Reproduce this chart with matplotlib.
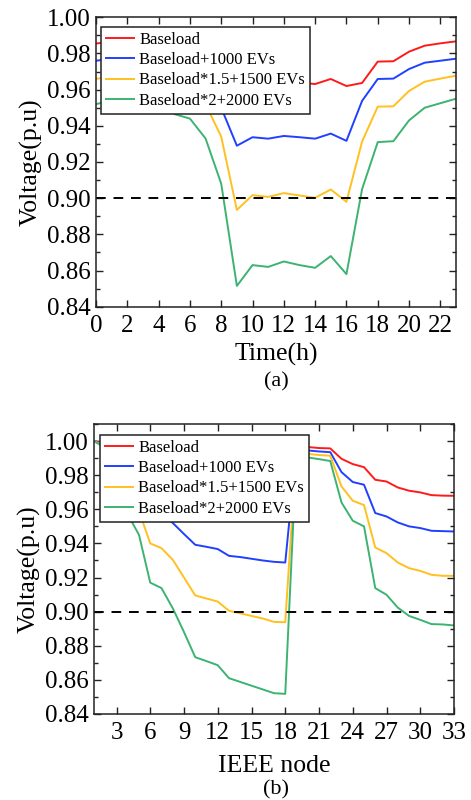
import matplotlib
matplotlib.use("Agg")
import matplotlib.pyplot as plt
from matplotlib.ticker import MultipleLocator

plt.rcParams['font.family'] = ['Liberation Serif', 'DejaVu Serif']
plt.rcParams['mathtext.fontset'] = 'stix'

# ---------------- data (a) ----------------
hours = list(range(24))
red_a = [0.9855, 0.9865, 0.987, 0.987, 0.9865, 0.985, 0.984, 0.981, 0.975, 0.962,
         0.964, 0.9635, 0.9645, 0.964, 0.9631, 0.9659, 0.962, 0.9637, 0.9755, 0.9757,
         0.981, 0.9843, 0.9856, 0.9867]
blue_a = [0.976, 0.977, 0.978, 0.978, 0.977, 0.975, 0.973, 0.968, 0.950, 0.929,
          0.9337, 0.9329, 0.9344, 0.9337, 0.9329, 0.9357, 0.9317, 0.9538, 0.9659, 0.9661,
          0.9714, 0.9749, 0.976, 0.9771]
yellow_a = [0.966, 0.967, 0.968, 0.968, 0.967, 0.963, 0.961, 0.952, 0.934, 0.8935,
            0.9017, 0.9007, 0.9028, 0.9015, 0.9002, 0.9048, 0.898, 0.9313, 0.9506, 0.9508,
            0.9593, 0.9644, 0.9661, 0.9677]
green_a = [0.952, 0.954, 0.955, 0.955, 0.954, 0.9465, 0.944, 0.933, 0.908, 0.8515,
           0.863, 0.862, 0.865, 0.863, 0.8615, 0.868, 0.858, 0.905, 0.931, 0.9315,
           0.943, 0.950, 0.9525, 0.955]

# ---------------- data (b) ----------------
nodes = list(range(1, 34))
red_b = [1.0, 0.999, 0.993, 0.990, 0.987, 0.979, 0.977, 0.975, 0.972, 0.970,
         0.969, 0.968, 0.966, 0.965, 0.964, 0.963, 0.962, 0.962,
         0.9982, 0.9965, 0.9959, 0.9957, 0.9896, 0.9865, 0.9847, 0.9773, 0.9763,
         0.9728, 0.9709, 0.9699, 0.9683, 0.968, 0.9679]
blue_b = [1.0, 0.998, 0.986, 0.980, 0.975, 0.962, 0.958, 0.952, 0.9455, 0.9392,
          0.938, 0.9367, 0.9327, 0.932, 0.931, 0.930, 0.9292, 0.9288,
          0.9959, 0.9945, 0.9939, 0.9935, 0.9818, 0.976, 0.9744, 0.9578, 0.9558,
          0.9523, 0.950, 0.949, 0.9474, 0.9472, 0.947]
yellow_b = [1.0, 0.997, 0.980, 0.970, 0.959, 0.940, 0.9372, 0.9304, 0.920, 0.9095,
            0.9077, 0.9059, 0.9005, 0.899, 0.8975, 0.896, 0.894, 0.8938,
            0.9949, 0.9925, 0.9918, 0.9914, 0.9734, 0.965, 0.9625, 0.9376, 0.9343,
            0.9288, 0.9255, 0.9239, 0.9216, 0.921, 0.921]
green_b = [1.0, 0.996, 0.975, 0.957, 0.945, 0.917, 0.9138, 0.902, 0.888, 0.8733,
           0.871, 0.8686, 0.861, 0.8588, 0.8566, 0.8544, 0.8522, 0.8518,
           0.993, 0.9904, 0.9894, 0.9883, 0.964, 0.9533, 0.950, 0.9138, 0.9099,
           0.9024, 0.8975, 0.8952, 0.8927, 0.8925, 0.8919]

labels = ['Baseload', 'Baseload+1000 EVs', 'Baseload*1.5+1500 EVs', 'Baseload*2+2000 EVs']
colors = ['#ff1a1a', '#2040ff', '#ffc020', '#3cb371']
limit = 0.90

fig = plt.figure(figsize=(4.71, 8.0), dpi=100)
ax1 = fig.add_axes([96/471, 1-306.7/800, (456-96)/471, (306.7-17.3)/800])
ax2 = fig.add_axes([94/471, 1-714/800, (454-94)/471, (714-424)/800])

FS = 18
LFS = 18.5

def style(ax):
    ax.tick_params(direction='in', which='both', top=True, right=True,
                   labelsize=FS, pad=4, colors='#222222', labelcolor='black')
    ax.tick_params(axis='x', pad=6)
    ax.tick_params(which='major', length=5, width=1)
    ax.tick_params(which='minor', length=3, width=1)
    ax.yaxis.set_major_locator(MultipleLocator(0.02))
    ax.yaxis.set_minor_locator(MultipleLocator(0.01))
    ax.yaxis.set_major_formatter(matplotlib.ticker.FormatStrFormatter('%.2f'))
    for s in ax.spines.values():
        s.set_linewidth(1.1)
        s.set_color('#222222')

def make_legend(ax, anchor):
    leg = ax.legend(loc='upper left', bbox_to_anchor=anchor, fontsize=12,
                    frameon=True, fancybox=False, edgecolor='#222222', framealpha=1,
                    handlelength=1.7, handletextpad=0.3, borderpad=0.3, labelspacing=0.25,
                    borderaxespad=0)
    leg.get_frame().set_linewidth(1.1)
    return leg

series_a = [red_a, blue_a, yellow_a, green_a]
for ys, c, l in zip(series_a, colors, labels):
    ax1.plot(hours, ys, color=c, lw=1.4, label=l)
ax1.axhline(limit, color='black', lw=1.4, ls=(0, (5, 4)))
ax1.set_xlim(0, 23)
ax1.set_ylim(0.84, 1.00)
ax1.set_xticks(range(0, 23, 2))
style(ax1)
ax1.set_xlabel('Time(h)', fontsize=LFS, labelpad=4)
ax1.set_ylabel('Voltage(p.u)', fontsize=LFS, labelpad=3)
make_legend(ax1, (0.014, 0.966))

series_b = [red_b, blue_b, yellow_b, green_b]
for ys, c, l in zip(series_b, colors, labels):
    ax2.plot(nodes, ys, color=c, lw=1.4, label=l)
ax2.axhline(limit, color='black', lw=1.4, ls=(0, (5, 4)))
ax2.set_xlim(1, 33)
ax2.set_ylim(0.84, 1.01)
ax2.set_xticks(range(3, 34, 3))
style(ax2)
ax2.set_xlabel('IEEE node', fontsize=LFS, labelpad=8)
ax2.set_ylabel('Voltage(p.u)', fontsize=LFS, labelpad=3)
make_legend(ax2, (0.017, 0.962))

fig.text(276/471, 1-382/800, '(a)', ha='center', va='center', fontsize=16)
fig.text(276/471, 1-790/800, '(b)', ha='center', va='center', fontsize=16)

fig.savefig('out.png', dpi=100)
